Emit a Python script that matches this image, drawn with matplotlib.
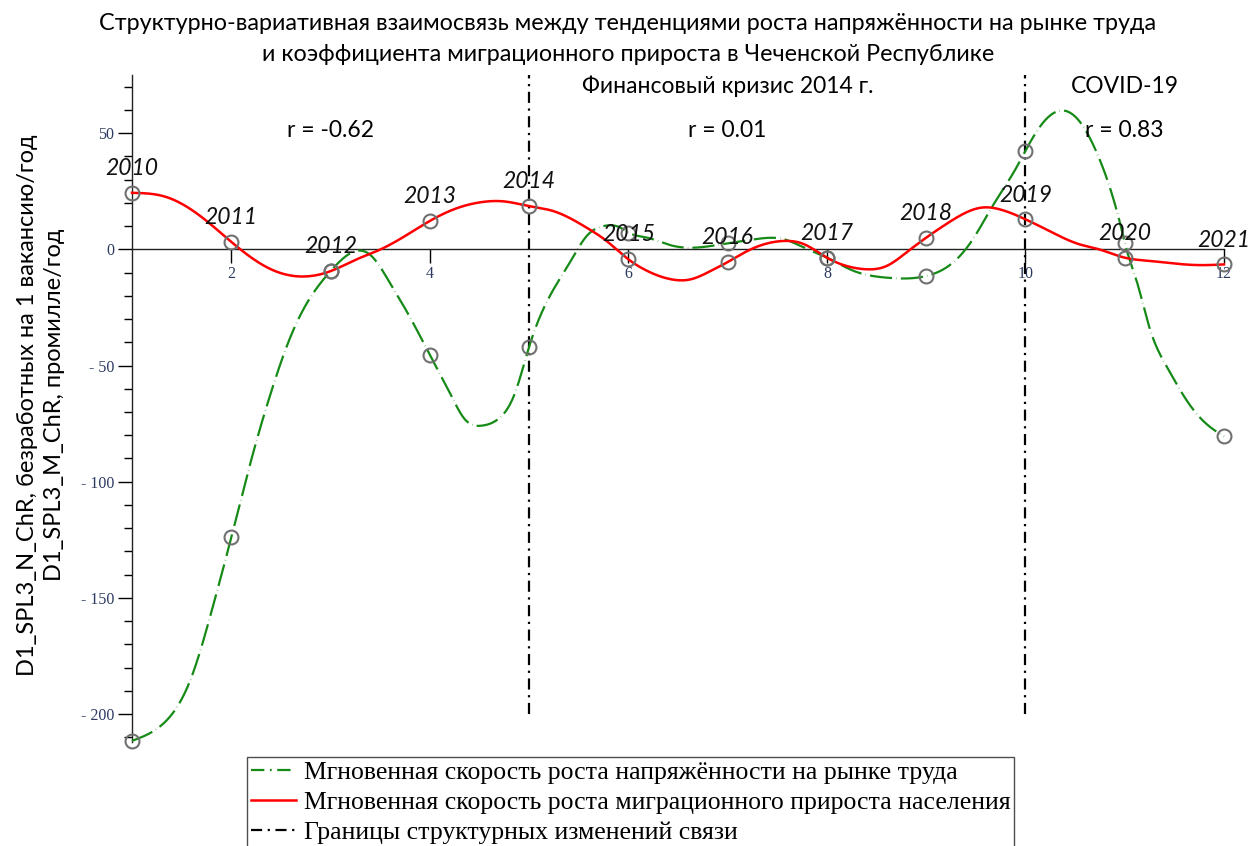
import numpy as np
import matplotlib
matplotlib.use("Agg")
import matplotlib.pyplot as plt
from matplotlib.lines import Line2D

# ---- data: yearly points (markers) ----
x_idx = [1, 2, 3, 4, 5, 6, 7, 8, 9, 10, 11, 12]
years = ["2010", "2011", "2012", "2013", "2014", "2015", "2016", "2017", "2018", "2019", "2020", "2021"]
labor = [-211.5, -124, -9.4, -45.4, -42, 7.2, 2.6, -3.6, -11.5, 42.4, 2.9, -80.5]
migr = [24.3, 3.2, -9.4, 12.2, 18.6, -4.3, -5.5, -3.6, 5.0, 12.9, -3.6, -6.5]

# ---- data: curves (x position, value) ----
labor_curve_x = [1, 1.33, 1.6, 1.8, 2, 2.2, 2.4, 2.6, 2.8, 3, 3.25, 3.4, 3.6, 3.8, 4, 4.2, 4.35,
                 4.52, 4.69, 4.86, 5, 5.2, 5.41, 5.58, 5.75, 5.92, 6, 6.19, 6.43, 6.66, 7, 7.27,
                 7.57, 7.77, 8, 8.27, 8.6, 9, 9.27, 9.47, 9.67, 9.9, 10, 10.14, 10.34, 10.54,
                 10.71, 10.85, 10.98, 11, 11.12, 11.25, 11.43, 11.63, 11.83, 12]
labor_curve_y = [-211.5, -203.5, -184, -156, -124, -90.8, -61.6, -37.3, -20.5, -9.4, -0.8, -2.4,
                 -14.6, -29.2, -45.4, -61.6, -73, -75.9, -73, -61.6, -42, -20.8, -5.7, 5.7, 10,
                 9.3, 7.2, 5, 1.7, 0.7, 2.6, 4.3, 4.3, 0.7, -3.6, -9.3, -12.2, -11.5, -5.7, 4.3,
                 18.7, 34.5, 42.4, 52.4, 59.6, 55.3, 42.4, 26.6, 6.5, 2.9, -13.6, -33.8, -51,
                 -65.4, -75.4, -80.5]
migr_curve_x = [1, 1.33, 1.6, 1.8, 2, 2.4, 2.7, 3, 3.28, 3.48, 3.75, 4, 4.28, 4.52, 4.75, 5,
                5.24, 5.58, 5.78, 6, 6.19, 6.43, 6.63, 6.83, 7, 7.2, 7.37, 7.57, 7.77, 8, 8.2, 8.4,
                8.6, 8.8, 9, 9.2, 9.4, 9.57, 9.74, 10, 10.24, 10.54, 10.74, 11, 11.25, 11.52,
                11.75, 12]
migr_curve_y = [24.3, 22.7, 17, 10.5, 3.2, -8.6, -11.7, -9.4, -4, -0.5, 5.7, 12.2, 17.8, 20.3,
                20.6, 18.6, 16.5, 9.3, 3.6, -4.3, -9.3, -12.9, -12.9, -9.3, -5.5, -0.7, 2.2, 3.6,
                2.2, -3.6, -7.2, -8.6, -7.2, -1.4, 5.0, 10.8, 15.8, 18, 17.2, 12.9, 7.9, 2.2, 0,
                -3.6, -5, -6.2, -6.8, -6.5]

breaks = [5, 10]
r_pos = [3, 7, 11]
r_text = ["r = -0.62", "r = 0.01", "r = 0.83"]
period_pos = [7, 11]
period_text = ["Финансовый кризис 2014 г.", "COVID-19"]
title = ("Структурно-вариативная взаимосвязь между тенденциями роста напряжённости на рынке труда\n"
         "и коэффициента миграционного прироста в Чеченской Республике")
ylabel = "D1_SPL3_N_ChR, безработных на 1 вакансию/год\nD1_SPL3_M_ChR, промилле/год"
legend_labels = ["Мгновенная скорость роста напряжённости на рынке труда",
                 "Мгновенная скорость роста миграционного прироста населения",
                 "Границы структурных изменений связи"]


def natural_spline(x, y, xs):
    x = np.asarray(x, float); y = np.asarray(y, float)
    n = len(x)
    h = np.diff(x)
    A = np.zeros((n, n)); b = np.zeros(n)
    A[0, 0] = 1; A[-1, -1] = 1
    for i in range(1, n - 1):
        A[i, i - 1] = h[i - 1]
        A[i, i] = 2 * (h[i - 1] + h[i])
        A[i, i + 1] = h[i]
        b[i] = 6 * ((y[i + 1] - y[i]) / h[i] - (y[i] - y[i - 1]) / h[i - 1])
    M = np.linalg.solve(A, b)
    idx = np.clip(np.searchsorted(x, xs) - 1, 0, n - 2)
    x0 = x[idx]; x1 = x[idx + 1]; hh = x1 - x0
    t0 = x1 - xs; t1 = xs - x0
    return (M[idx] * t0 ** 3 / (6 * hh) + M[idx + 1] * t1 ** 3 / (6 * hh)
            + (y[idx] / hh - M[idx] * hh / 6) * t0 + (y[idx + 1] / hh - M[idx + 1] * hh / 6) * t1)


fig = plt.figure(figsize=(12.5, 8.46), dpi=100)
ax = fig.add_axes([132 / 1250, 1 - 742 / 846, (1224 - 132) / 1250, (742 - 75) / 846])
ax.set_xlim(1, 12)
ax.set_ylim(-212, 75)

xs = np.linspace(1, 12, 1500)
green_c = "#168a16"
green_line_dash = (10, 1.9, 0.15, 1.9)
green_leg_dash = (6, 2.5, 0.8, 2.5)
ax.plot(xs, natural_spline(labor_curve_x, labor_curve_y, xs), color=green_c, lw=1.6,
        dashes=green_line_dash, clip_on=False, zorder=3)
ax.plot(xs, natural_spline(migr_curve_x, migr_curve_y, xs), color="#ff0000", lw=1.8,
        clip_on=False, zorder=4)

ax.plot(x_idx, labor, ls="none", marker="o", ms=10, mfc="none", mec="#707070", mew=1.5,
        clip_on=False, zorder=5)
ax.plot(x_idx, migr, ls="none", marker="o", ms=10, mfc="none", mec="#707070", mew=1.5,
        clip_on=False, zorder=5)

for b in breaks:
    ax.plot([b, b], [-200, 75], color="black", lw=1.6, dashes=(5, 2.5, 1, 2.5), zorder=2,
            clip_on=False)

for xi, yv, yr in zip(x_idx, migr, years):
    ax.annotate(yr, (xi, yv), xytext=(0, 17.5), textcoords="offset points", ha="center",
                va="center", fontsize=16.5, fontstyle="italic", family="Lato", color="#111111",
                zorder=6)

for xp, t in zip(r_pos, r_text):
    ax.text(xp, 51, t, ha="center", va="center", fontsize=16.5, family="Lato")
for xp, t in zip(period_pos, period_text):
    ax.text(xp, 70, t, ha="center", va="center", fontsize=16.5, family="Lato")

# axes styling
ax.spines["top"].set_visible(False)
ax.spines["right"].set_visible(False)
ax.spines["bottom"].set_position(("data", 0))
for s in ("left", "bottom"):
    ax.spines[s].set_linewidth(1.0)
    ax.spines[s].set_color("#222222")
ax.set_yticks([50, 0, -50, -100, -150, -200])
ax.set_yticklabels(["50", "0", "- 50", "- 100", "- 150", "- 200"])
ax.set_yticks(np.arange(-210, 80, 10), minor=True)
ax.set_xticks([2, 4, 6, 8, 10, 12])
ax.set_xticks([], minor=True)
ax.tick_params(axis="y", which="major", length=10, width=1, labelsize=11.5, labelcolor="#2c3a60",
               direction="out", pad=3)
ax.tick_params(axis="y", which="minor", length=6, width=1, direction="out")
ax.tick_params(axis="x", which="major", length=10, width=1, labelsize=11.5, labelcolor="#2c3a60",
               direction="out", pad=2)
for lab in ax.get_xticklabels() + ax.get_yticklabels():
    lab.set_family("Liberation Serif")

fig.text(628 / 1250, 1 - 39 / 846, title, ha="center", va="center", fontsize=16.8, family="Lato",
         linespacing=1.6)
fig.text(41 / 1250, 1 - 405 / 846, ylabel, ha="center", va="center", rotation=90, fontsize=17,
         family="Lato", linespacing=1.4)

handles = [Line2D([], [], color=green_c, lw=1.6, dashes=green_leg_dash),
           Line2D([], [], color="#ff0000", lw=1.8),
           Line2D([], [], color="black", lw=1.6, dashes=(5, 2.5, 1, 2.5))]
leg = fig.legend(handles, legend_labels, loc="upper left", bbox_to_anchor=(247 / 1250, 1 - 757 / 846),
                 prop={"family": "Liberation Serif", "size": 18.5}, frameon=True, fancybox=False,
                 handlelength=1.75, handletextpad=0.3, borderpad=0.15, labelspacing=0.28,
                 borderaxespad=0)
leg.get_frame().set_edgecolor("#222222")
leg.get_frame().set_linewidth(1.0)

fig.savefig("out.png", dpi=100)
